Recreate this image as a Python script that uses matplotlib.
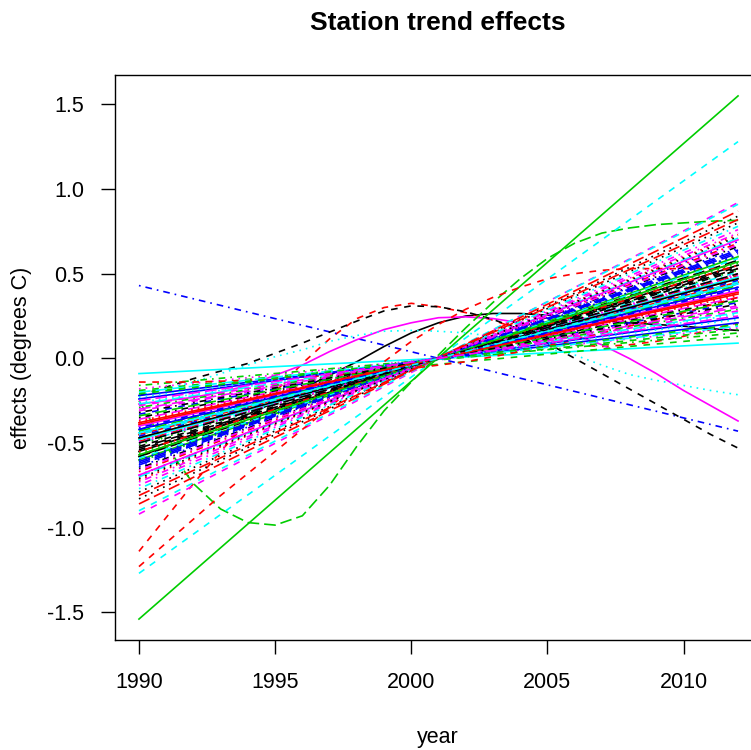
import matplotlib
matplotlib.use("Agg")
import matplotlib.pyplot as plt

plt.rcParams["font.family"] = ["Liberation Sans", "DejaVu Sans"]
plt.rcParams["axes.unicode_minus"] = False

years = list(range(1990, 2013))

# stations whose effect is not a straight line, one value per year 1990..2012
curve_black_solid = [-0.58, -0.52, -0.46, -0.40, -0.33, -0.26, -0.18, -0.10, -0.02, 0.07, 0.15, 0.21,
                     0.25, 0.265, 0.265, 0.255, 0.24, 0.225, 0.21, 0.20, 0.19, 0.175, 0.165]
curve_red_peak = [-1.14, -0.94, -0.74, -0.55, -0.37, -0.20, -0.03, 0.115, 0.235, 0.30, 0.325, 0.305,
                  0.27, 0.225, 0.17, 0.11, 0.08, 0.07, 0.08, 0.10, 0.13, 0.17, 0.21]
curve_magenta = [-0.27, -0.25, -0.23, -0.20, -0.16, -0.10, -0.04, 0.04, 0.11, 0.17, 0.21, 0.24,
                 0.245, 0.235, 0.21, 0.18, 0.14, 0.08, 0.00, -0.09, -0.19, -0.28, -0.37]
curve_black_dashed = [-0.22, -0.17, -0.12, -0.075, -0.03, 0.03, 0.09, 0.155, 0.22, 0.28, 0.31, 0.305,
                      0.275, 0.23, 0.17, 0.09, 0.0, -0.09, -0.18, -0.27, -0.36, -0.45, -0.53]
curve_green_dip = [-0.25, -0.52, -0.74, -0.89, -0.97, -0.985, -0.93, -0.75, -0.52, -0.31, -0.14, 0.02,
                   0.18, 0.33, 0.47, 0.59, 0.68, 0.74, 0.77, 0.79, 0.80, 0.81, 0.815]
curve_cyan_dotted = [-0.22, -0.18, -0.14, -0.09, -0.04, 0.01, 0.05, 0.10, 0.135, 0.16, 0.165, 0.16,
                     0.15, 0.13, 0.10, 0.06, 0.02, -0.04, -0.095, -0.13, -0.16, -0.19, -0.215]
curve_red_rise = [-1.23, -1.09, -0.95, -0.81, -0.68, -0.55, -0.42, -0.29, -0.15, -0.02, 0.10, 0.20,
                  0.29, 0.36, 0.42, 0.47, 0.50, 0.52, 0.53, 0.53, 0.53, 0.53, 0.53]
curve_red_slow = [-0.14, -0.14, -0.14, -0.135, -0.13, -0.12, -0.11, -0.10, -0.09, -0.075, -0.06, -0.04,
                  -0.02, 0.01, 0.04, 0.075, 0.11, 0.15, 0.19, 0.23, 0.27, 0.315, 0.36]

# station column -> curve
curve_columns = {0: curve_black_solid, 1: curve_red_peak, 5: curve_magenta, 6: curve_black_dashed,
                 14: curve_green_dip, 22: curve_cyan_dotted, 31: curve_red_rise, 61: curve_red_slow}

# the other stations are straight lines, given in column order
linear_1990 = [-0.51, 0.43, -0.70, -0.38, -0.47, -0.62, -0.09, -0.92, -0.83, -0.67,
               -0.42, -1.27, -0.18, -0.65, -0.49, -1.54, -0.33, -0.75, -0.58, -0.45,
               -0.19, -0.69, -0.50, -0.36, -0.55, -0.61, -0.44, -0.27, -0.40, -0.54,
               -0.72, -0.16, -0.63, -0.48, -0.31, -0.79, -0.57, -0.43, -0.22, -0.90,
               -0.50, -0.35, -0.86, -0.60, -0.46, -0.26, -0.73, -0.53, -0.39, -0.20,
               -0.64, -0.77, -0.30, -0.47, -0.56, -0.41, -0.20, -0.69, -0.52, -0.37,
               -0.29, -0.61, -0.44, -0.28, -0.71, -0.55, -0.34, -0.24, -0.59, -0.49,
               -0.32, -0.81, -0.57, -0.42, -0.23, -0.66, -0.50, -0.38, -0.21, -0.60,
               -0.45, -0.25]
linear_2012 = [0.52, -0.43, 0.71, 0.38, 0.47, 0.63, 0.09, 0.92, 0.84, 0.68,
               0.42, 1.28, 0.18, 0.66, 0.49, 1.55, 0.33, 0.76, 0.58, 0.45,
               0.17, 0.69, 0.51, 0.36, 0.55, 0.61, 0.44, 0.27, 0.40, 0.54,
               0.73, 0.15, 0.64, 0.48, 0.31, 0.80, 0.57, 0.43, 0.21, 0.91,
               0.50, 0.35, 0.87, 0.60, 0.46, 0.26, 0.74, 0.53, 0.39, 0.13,
               0.65, 0.78, 0.30, 0.47, 0.56, 0.41, 0.19, 0.70, 0.52, 0.37,
               0.29, 0.62, 0.44, 0.28, 0.72, 0.55, 0.34, 0.24, 0.59, 0.49,
               0.32, 0.82, 0.57, 0.42, 0.23, 0.67, 0.50, 0.38, 0.20, 0.61,
               0.45, 0.25]

n_stations = len(curve_columns) + len(linear_2012)

# matplot-like cycling of colours and line types
palette = ["#000000", "#FF0000", "#00CD00", "#0000FF", "#00FFFF", "#FF00FF"]
ltys = ["solid", (0, (4, 4)), (0, (1, 3)), (0, (1, 3, 4, 3)), (0, (7, 3))]

fig = plt.figure(figsize=(7.51, 7.5), dpi=100)
ax = fig.add_axes([115 / 751, 110 / 750, 647 / 751, 565 / 750])

k = 0
for col in range(n_stations):
    style = dict(color=palette[col % 6], linestyle=ltys[col % 5], lw=1.2)
    if col in curve_columns:
        ax.plot(years, curve_columns[col], **style)
    else:
        ax.plot([years[0], years[-1]], [linear_1990[k], linear_2012[k]], **style)
        k += 1

ax.margins(x=0.04, y=0.04)
ax.set_xticks([1990, 1995, 2000, 2005, 2010])
ax.set_yticks([-1.5, -1.0, -0.5, 0.0, 0.5, 1.0, 1.5])
ax.set_yticklabels(["-1.5", "-1.0", "-0.5", "0.0", "0.5", "1.0", "1.5"])
ax.tick_params(axis="both", labelsize=15.5, length=10, width=1)
ax.tick_params(axis="x", pad=13)
ax.tick_params(axis="y", pad=12)
for s in ax.spines.values():
    s.set_linewidth(1.0)

fig.text(438 / 751, 1 - 23 / 750, "Station trend effects", fontsize=19, fontweight="bold",
         ha="center", va="center")
fig.text(438 / 751, 1 - 737 / 750, "year", fontsize=15.5, ha="center", va="center")
fig.text(22 / 751, 1 - 358 / 750, "effects (degrees C)", fontsize=15.5, rotation=90,
         ha="center", va="center")

fig.savefig("out.png", dpi=100)
